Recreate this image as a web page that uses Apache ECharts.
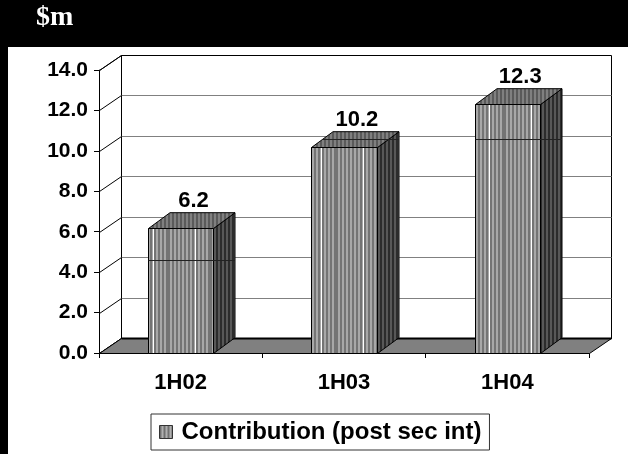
<!DOCTYPE html>
<html><head><meta charset="utf-8">
<script src="https://cdn.jsdelivr.net/npm/echarts@6/dist/echarts.min.js"></script>
<style>html,body{margin:0;padding:0;background:#000}#c{width:628px;height:454px}</style>
</head><body><div id="c"></div>
<script>
const categories = ['1H02', '1H03', '1H04'];
const values = [6.2, 10.2, 12.3];
const seriesName = 'Contribution (post sec int)';
const yTicks = [0, 2, 4, 6, 8, 10, 12, 14];
const crossLineValues = [4, 10, 10];

const FONT = '"Liberation Sans", Arial, Helvetica, sans-serif';
const DX = 21.5, DY = -15.8;

function stripeCanvas(cols) {
  const c = document.createElement('canvas');
  c.width = cols.length; c.height = 4;
  const ctx = c.getContext('2d');
  cols.forEach((col, i) => { ctx.fillStyle = col; ctx.fillRect(i, 0, 1, 4); });
  return c;
}
function periodic(n, a, b, extra) {
  const arr = [];
  for (let i = 0; i < n; i++) arr.push(i % 4 < 2 ? a : b);
  if (extra) Object.keys(extra).forEach(k => arr[k] = extra[k]);
  return arr;
}
const frontPat = { image: stripeCanvas(periodic(42, '#747474', '#a8a8a8', {27: '#ffffff'})), repeat: 'repeat' };
const topPat = { image: stripeCanvas(periodic(4, '#5a5a5a', '#808080')), repeat: 'repeat' };
const sidePat = { image: stripeCanvas(periodic(4, '#2c2c2c', '#585858')), repeat: 'repeat' };
const legendPat = { image: stripeCanvas(periodic(4, '#707070', '#b0b0b0')), repeat: 'repeat' };

const P = v => Math.round(v) + 0.5;

function renderWalls(params, api) {
  const band = api.size([1, 0])[0];
  const x0 = P(api.coord([0, 0])[0] - band / 2);
  const x1 = P(api.coord([categories.length - 1, 0])[0] + band / 2);
  const yb = P(api.coord([0, yTicks[0]])[1]);
  const yt = P(api.coord([0, yTicks[yTicks.length - 1]])[1]);
  const bx0 = P(x0 + DX), bx1 = P(x1 + DX);
  const byb = P(yb + DY), byt = P(yt + DY);
  const ch = [];
  ch.push({ type: 'rect', shape: { x: bx0, y: byt, width: bx1 - bx0, height: byb - byt }, style: { fill: '#fff', stroke: '#000', lineWidth: 1 } });
  ch.push({ type: 'polygon', shape: { points: [[x0, yb], [x0, yt], [bx0, byt], [bx0, byb]] }, style: { fill: '#fff', stroke: '#000', lineWidth: 1 } });
  yTicks.forEach((t, k) => {
    const y = P(api.coord([0, t])[1]);
    const by = P(y + DY);
    if (k > 0 && k < yTicks.length - 1) {
      ch.push({ type: 'line', shape: { x1: bx0, y1: by, x2: bx1, y2: by }, style: { stroke: '#808080', lineWidth: 1 } });
    }
    ch.push({ type: 'line', shape: { x1: x0, y1: y, x2: bx0, y2: by }, style: { stroke: '#000', lineWidth: 1 } });
  });
  ch.push({ type: 'polygon', shape: { points: [[x0, yb], [x1, yb], [bx1, byb], [bx0, byb]] }, style: { fill: '#808080', stroke: '#000', lineWidth: 1 } });
  ch.push({ type: 'line', shape: { x1: bx0, y1: byb, x2: bx1, y2: byb }, style: { stroke: '#000', lineWidth: 2 } });
  return { type: 'group', children: ch };
}

function renderBar(params, api) {
  const i = params.dataIndex;
  const v = api.value(1);
  const c = api.coord([api.value(0), v]);
  const c0 = api.coord([api.value(0), 0]);
  const band = api.size([1, 0])[0];
  const w = band * 0.4;
  const xl = P(c[0] - w / 2), xr = P(c[0] + w / 2);
  const yt = P(c[1]), yb = P(c0[1]);
  const txr = xr + DX, tyt = yt + DY;
  const ch = [];
  ch.push({ type: 'polygon', shape: { points: [[xr, yt], [txr, tyt], [txr, yb + DY], [xr, yb]] }, style: { fill: sidePat, stroke: '#000', lineWidth: 1 } });
  ch.push({ type: 'polygon', shape: { points: [[xl, yt], [xr, yt], [txr, tyt], [xl + DX, tyt]] }, style: { fill: topPat, stroke: '#000', lineWidth: 1 } });
  ch.push({ type: 'rect', shape: { x: xl, y: yt, width: xr - xl, height: yb - yt }, style: { fill: frontPat, stroke: '#000', lineWidth: 1 } });
  // faint grid line seen across the bar
  const g = crossLineValues[i];
  const gy = P(api.coord([0, g])[1] + DY * 0.78);
  let gxl = xl;
  if (gy < yt) gxl = xl + (yt - gy) / (-DY) * DX;
  ch.push({ type: 'line', shape: { x1: gxl, y1: gy, x2: txr, y2: gy }, style: { stroke: '#222', lineWidth: 1 } });
  ch.push({ type: 'text', style: { text: v.toFixed(1), x: c[0] + DX * 0.6, y: tyt - 1, textAlign: 'center', textVerticalAlign: 'bottom', fill: '#000', font: 'bold 22px ' + FONT } });
  return { type: 'group', children: ch };
}

const chart = echarts.init(document.getElementById('c'), null, { renderer: 'canvas' });
chart.setOption({
  backgroundColor: '#000',
  animation: false,
  textStyle: { fontFamily: FONT },
  title: {
    text: '$m', left: 36, top: 4, padding: 0,
    textStyle: { color: '#fff', fontFamily: '"Liberation Serif", "Times New Roman", serif', fontWeight: 'bold', fontSize: 28 }
  },
  graphic: [
    { type: 'rect', z: -100, zlevel: 0, silent: true, shape: { x: 8, y: 47, width: 620, height: 407 }, style: { fill: '#fff' } }
  ],
  grid: { left: 99, right: 39, top: 70, bottom: 101 },
  xAxis: {
    type: 'category', data: categories,
    axisLine: { show: true, lineStyle: { color: '#000', width: 1 } },
    axisTick: { show: true, length: 5, lineStyle: { color: '#000' } },
    axisLabel: { color: '#000', fontWeight: 'bold', fontSize: 22, margin: 19, fontFamily: FONT },
    splitLine: { show: false }
  },
  yAxis: {
    type: 'value', min: yTicks[0], max: yTicks[yTicks.length - 1], interval: yTicks[1] - yTicks[0],
    axisLine: { show: true, lineStyle: { color: '#000', width: 1 } },
    axisTick: { show: true, length: 5, lineStyle: { color: '#000' } },
    axisLabel: { color: '#000', fontWeight: 'bold', fontSize: 21, margin: 11, fontFamily: FONT, formatter: v => v.toFixed(1) },
    splitLine: { show: false }
  },
  legend: {
    data: [{ name: seriesName, icon: 'rect' }],
    left: 151, top: 414, padding: [6, 8, 6, 8],
    itemWidth: 13, itemHeight: 13, itemGap: 10,
    backgroundColor: '#fff', borderColor: '#333', borderWidth: 1, borderRadius: 0,
    itemStyle: { borderColor: '#333', borderWidth: 1 },
    textStyle: { color: '#000', fontWeight: 'bold', fontSize: 24, fontFamily: FONT, padding: [0, 0, 0, 4] },
    selectedMode: false
  },
  series: [
    { name: 'walls', type: 'custom', silent: true, clip: false, z: 1, renderItem: renderWalls, data: [[0, 0]], encode: { x: 0, y: 1 } },
    { name: seriesName, type: 'custom', clip: false, z: 3, itemStyle: { color: legendPat }, renderItem: renderBar,
      data: values.map((v, i) => [i, v]), encode: { x: 0, y: 1 } }
  ]
});
</script></body></html>
